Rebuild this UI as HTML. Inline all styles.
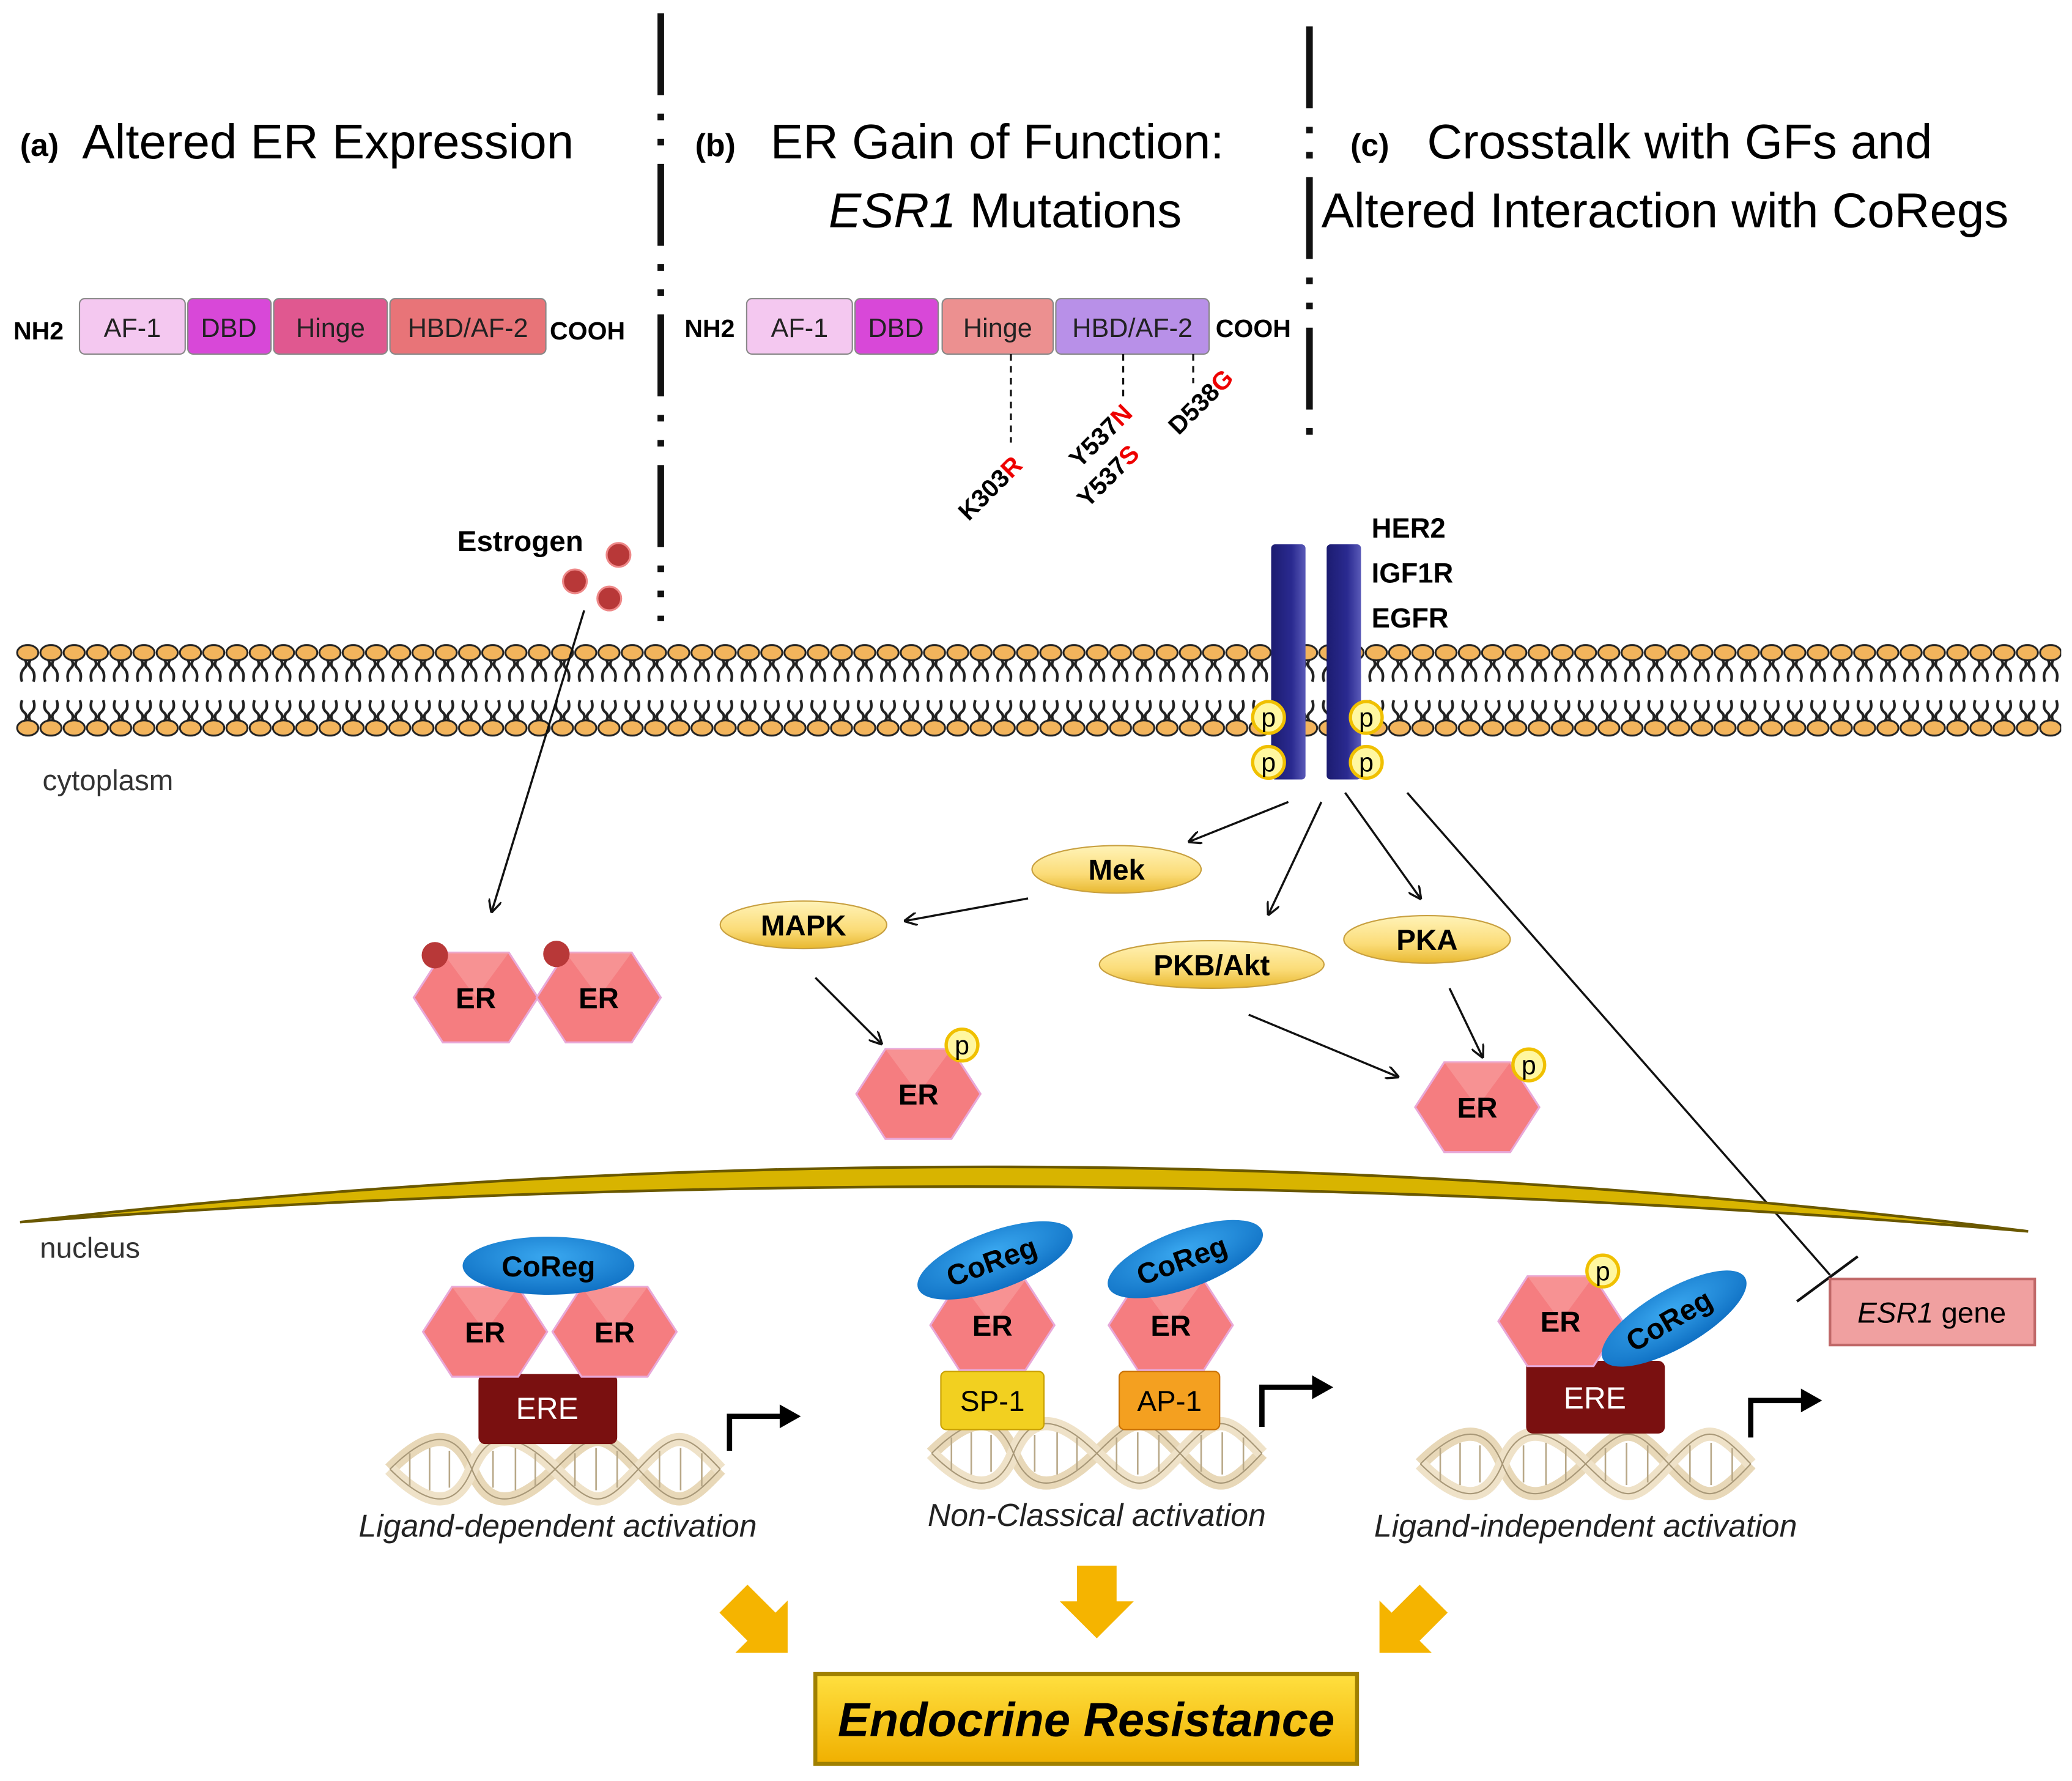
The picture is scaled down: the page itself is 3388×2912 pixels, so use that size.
<!DOCTYPE html>
<html><head><meta charset="utf-8"><style>
html,body{margin:0;padding:0;background:#fff;}
svg{display:block;}
text{font-family:"Liberation Sans","DejaVu Sans",sans-serif;}
</style></head><body>
<svg width="3388" height="2912" viewBox="0 0 1568 1348" xmlns="http://www.w3.org/2000/svg">
<defs>
<pattern id="lip" x="12" y="485" width="17.6" height="82" patternUnits="userSpaceOnUse">
 <path d="M6.3 14 Q9.5 18 6 21 Q2.5 25 4.5 31 M11.3 14 Q8.1 18 11.6 21 Q15.1 25 13.1 31" fill="none" stroke="#222" stroke-width="2"/>
 <path d="M4.5 45 Q2.5 51 6 54 Q9.5 57 6.3 61 M13.1 45 Q15.1 51 11.6 54 Q8.1 57 11.3 61" fill="none" stroke="#222" stroke-width="2"/>
 <ellipse cx="8.8" cy="9" rx="8" ry="5.8" fill="#f2b45c" stroke="#222" stroke-width="1.4"/>
 <ellipse cx="8.8" cy="66" rx="8" ry="5.8" fill="#f2b45c" stroke="#222" stroke-width="1.4"/>
</pattern>
<linearGradient id="rec" x1="0" x2="1"><stop offset="0" stop-color="#1c1c70"/><stop offset=".6" stop-color="#2a2a90"/><stop offset="1" stop-color="#5a5ab8"/></linearGradient>
<linearGradient id="yel" x1="0" y1="0" x2="0" y2="1"><stop offset="0" stop-color="#fff3b8"/><stop offset=".6" stop-color="#fbdc78"/><stop offset="1" stop-color="#e8b830"/></linearGradient>
<linearGradient id="gold" x1="0" y1="0" x2="0" y2="1"><stop offset="0" stop-color="#ffe040"/><stop offset="1" stop-color="#f0b000"/></linearGradient>
<radialGradient id="blue" cx=".5" cy=".35" r=".7"><stop offset="0" stop-color="#3aa8f0"/><stop offset="1" stop-color="#0c6cc0"/></radialGradient>
<marker id="ar" markerWidth="10" markerHeight="10" refX="9" refY="5" orient="auto" markerUnits="userSpaceOnUse"><path d="M0 0 L10 5 L0 10" fill="none" stroke="#111" stroke-width="1.6"/></marker>
<g id="hex"><path d="M-47 0 L-25 -34 L25 -34 L47 0 L25 34 L-25 34 Z" fill="#f57d80" stroke="#e8a8d8" stroke-width="1.5"/><path d="M-25 -34 L25 -34 L0 0 Z" fill="#f9a0a0" opacity=".6"/></g>
<g id="dna" fill="none">
 <path d="M0 22 C30 -8 50 -8 62 22 S95 52 125 22 S160 -8 188 22 S222 52 250 22" stroke="#e8d8b8" stroke-width="10"/>
 <path d="M0 22 C30 52 50 52 62 22 S95 -8 125 22 S160 52 188 22 S222 -8 250 22" stroke="#efe2c8" stroke-width="10"/>
 <path d="M0 22 C30 -8 50 -8 62 22 S95 52 125 22 S160 -8 188 22 S222 52 250 22 M0 22 C30 52 50 52 62 22 S95 -8 125 22 S160 52 188 22 S222 -8 250 22" stroke="#a89878" stroke-width="1"/>
 <g stroke="#b8a888" stroke-width="1.2"><path d="M15 10v25M30 6v32M45 8v28M78 8v28M95 6v32M110 10v25M140 10v25M156 6v32M172 8v28M204 8v28M220 6v32M236 10v25"/></g>
</g>
<g id="pp"><circle r="12" fill="#fff7a0" stroke="#f0c000" stroke-width="2.5"/><text y="7" text-anchor="middle" font-size="20">p</text></g>
</defs>

<!-- dividers -->
<g stroke="#111" stroke-width="5">
<path d="M500 10V470" stroke-dasharray="62 14 5 14 5 14"/>
<path d="M991 20V335" stroke-dasharray="62 14 5 14 5 14"/>
</g>

<!-- titles -->
<text x="15" y="118" font-size="24" font-weight="bold">(a)</text>
<text x="62" y="120" font-size="37">Altered ER Expression</text>
<text x="526" y="118" font-size="24" font-weight="bold">(b)</text>
<text x="583" y="120" font-size="37">ER Gain of Function:</text>
<text x="627" y="172" font-size="37"><tspan font-style="italic">ESR1</tspan> Mutations</text>
<text x="1022" y="118" font-size="24" font-weight="bold">(c)</text>
<text x="1080" y="120" font-size="37">Crosstalk with GFs and</text>
<text x="1000" y="172" font-size="37">Altered Interaction with CoRegs</text>

<!-- domain bars -->
<g font-size="20" text-anchor="middle" stroke="#888" stroke-width="1">
<rect x="60" y="226" width="80" height="42" rx="4" fill="#f4c8f0"/>
<rect x="142" y="226" width="63" height="42" rx="4" fill="#d848d8"/>
<rect x="207" y="226" width="86" height="42" rx="4" fill="#e05890"/>
<rect x="295" y="226" width="118" height="42" rx="4" fill="#e87478"/>
<rect x="565" y="226" width="80" height="42" rx="4" fill="#f4c8f0"/>
<rect x="647" y="226" width="63" height="42" rx="4" fill="#d848d8"/>
<rect x="713" y="226" width="84" height="42" rx="4" fill="#ec9090"/>
<rect x="799" y="226" width="116" height="42" rx="4" fill="#b890e8"/>
</g>
<g font-size="20" text-anchor="middle" fill="#222">
<text x="100" y="255">AF-1</text><text x="173" y="255">DBD</text><text x="250" y="255">Hinge</text><text x="354" y="255">HBD/AF-2</text>
<text x="605" y="255">AF-1</text><text x="678" y="255">DBD</text><text x="755" y="255">Hinge</text><text x="857" y="255">HBD/AF-2</text>
</g>
<g font-size="19" font-weight="bold">
<text x="10" y="257">NH2</text><text x="416" y="257">COOH</text>
<text x="518" y="255">NH2</text><text x="920" y="255">COOH</text>
</g>
<g stroke="#111" stroke-width="1.5" stroke-dasharray="5 4"><path d="M765 268V335M850 268V300M903 268V290"/></g>
<g font-size="19" font-weight="bold">
<text transform="translate(733,395) rotate(-45)">K303<tspan fill="#e00">R</tspan></text>
<text transform="translate(817,355) rotate(-45)">Y537<tspan fill="#e00">N</tspan></text>
<text transform="translate(823,385) rotate(-45)">Y537<tspan fill="#e00">S</tspan></text>
<text transform="translate(892,330) rotate(-45)">D538<tspan fill="#e00">G</tspan></text>
</g>

<!-- membrane -->
<rect x="12" y="485" width="1548" height="82" fill="url(#lip)"/>
<text x="32" y="598" font-size="22" fill="#333">cytoplasm</text>

<!-- receptors -->
<rect x="962" y="412" width="26" height="178" rx="3" fill="url(#rec)"/>
<rect x="1004" y="412" width="26" height="178" rx="3" fill="url(#rec)"/>
<use href="#pp" x="960" y="543"/><use href="#pp" x="960" y="577"/>
<use href="#pp" x="1034" y="543"/><use href="#pp" x="1034" y="577"/>
<g font-size="21" font-weight="bold"><text x="1038" y="407">HER2</text><text x="1038" y="441">IGF1R</text><text x="1038" y="475">EGFR</text></g>

<!-- estrogen -->
<text x="346" y="417" font-size="22" font-weight="bold">Estrogen</text>
<g fill="#b83838" stroke="#e88" stroke-width="1.5"><circle cx="468" cy="420" r="9"/><circle cx="435" cy="440" r="9"/><circle cx="461" cy="453" r="9"/></g>

<!-- arrows -->
<g stroke="#111" stroke-width="1.6" fill="none" marker-end="url(#ar)">
<path d="M442 462L372 690"/>
<path d="M975 607L900 637"/><path d="M1000 607L960 692"/><path d="M1018 600L1075 680"/>
<path d="M778 680L685 697"/><path d="M617 740L667 790"/><path d="M945 768L1058 815"/><path d="M1097 748L1122 800"/>
</g>
<path d="M1065 600L1385 965" stroke="#111" stroke-width="1.6"/>
<path d="M1360 985L1406 951" stroke="#111" stroke-width="2"/>

<!-- kinases -->
<g stroke="#c8a040" stroke-width="1"><ellipse cx="845" cy="658" rx="64" ry="18" fill="url(#yel)"/><ellipse cx="608" cy="700" rx="63" ry="18" fill="url(#yel)"/><ellipse cx="917" cy="730" rx="85" ry="18" fill="url(#yel)"/><ellipse cx="1080" cy="711" rx="63" ry="18" fill="url(#yel)"/></g>
<g font-size="22" font-weight="bold" text-anchor="middle"><text x="845" y="666">Mek</text><text x="608" y="708">MAPK</text><text x="917" y="738">PKB/Akt</text><text x="1080" y="719">PKA</text></g>

<!-- cytoplasm ERs -->
<use href="#hex" x="360" y="755"/><use href="#hex" x="453" y="755"/>
<circle cx="329" cy="723" r="10" fill="#b83838"/><circle cx="421" cy="722" r="10" fill="#b83838"/>
<use href="#hex" x="695" y="828"/><use href="#pp" x="728" y="791"/>
<use href="#hex" x="1118" y="838"/><use href="#pp" x="1157" y="806"/>
<g font-size="22" font-weight="bold" text-anchor="middle"><text x="360" y="763">ER</text><text x="453" y="763">ER</text><text x="695" y="836">ER</text><text x="1118" y="846">ER</text></g>

<!-- nucleus -->
<path d="M15 925 Q780 838 1535 932 Q780 868 15 925Z" fill="#d8b400" stroke="#6a5800" stroke-width="2"/>
<text x="30" y="952" font-size="22" fill="#333">nucleus</text>

<!-- DNA -->
<use href="#dna" x="295" y="1090"/><use href="#dna" x="705" y="1078"/><use href="#dna" x="1075" y="1086"/>

<!-- left complex -->
<rect x="362" y="1040" width="105" height="53" rx="5" fill="#7a1010"/>
<text x="414" y="1074" font-size="23" fill="#fff" text-anchor="middle">ERE</text>
<use href="#hex" x="367" y="1008"/><use href="#hex" x="465" y="1008"/>
<ellipse cx="415" cy="958" rx="65" ry="22" fill="url(#blue)"/>
<g font-size="22" font-weight="bold" text-anchor="middle"><text x="367" y="1016">ER</text><text x="465" y="1016">ER</text><text x="415" y="966">CoReg</text></g>

<!-- middle complex -->
<rect x="712" y="1038" width="78" height="44" rx="4" fill="#f2d020" stroke="#c8a000"/>
<rect x="847" y="1038" width="76" height="44" rx="4" fill="#f4a020" stroke="#c87000"/>
<g font-size="22" text-anchor="middle"><text x="751" y="1068">SP-1</text><text x="885" y="1068">AP-1</text></g>
<use href="#hex" x="751" y="1003"/><use href="#hex" x="886" y="1003"/>
<ellipse cx="0" cy="0" rx="62" ry="22" fill="url(#blue)" transform="translate(753,954) rotate(-20)"/>
<ellipse cx="0" cy="0" rx="62" ry="22" fill="url(#blue)" transform="translate(897,953) rotate(-20)"/>
<g font-size="22" font-weight="bold" text-anchor="middle"><text x="751" y="1011">ER</text><text x="886" y="1011">ER</text>
<text transform="translate(753,962) rotate(-20)">CoReg</text><text transform="translate(897,961) rotate(-20)">CoReg</text></g>

<!-- right complex -->
<rect x="1155" y="1030" width="105" height="55" rx="5" fill="#7a1010"/>
<text x="1207" y="1066" font-size="23" fill="#fff" text-anchor="middle">ERE</text>
<use href="#hex" x="1181" y="1000"/><use href="#pp" x="1213" y="962"/>
<ellipse cx="0" cy="0" rx="62" ry="22" fill="url(#blue)" transform="translate(1267,998) rotate(-30)"/>
<g font-size="22" font-weight="bold" text-anchor="middle"><text x="1181" y="1008">ER</text><text transform="translate(1267,1006) rotate(-30)">CoReg</text></g>

<!-- bent arrows -->
<g stroke="#000" stroke-width="4" fill="none"><path d="M552 1098V1072H592"/><path d="M955 1080V1050H995"/><path d="M1325 1088V1060H1365"/></g>
<g fill="#000"><path d="M590 1063L606 1072L590 1081Z"/><path d="M993 1041L1009 1050L993 1059Z"/><path d="M1363 1051L1379 1060L1363 1069Z"/></g>

<!-- ESR1 gene -->
<rect x="1385" y="968" width="155" height="50" fill="#f0a0a0" stroke="#c06868" stroke-width="2"/>
<text x="1462" y="1001" font-size="22" text-anchor="middle"><tspan font-style="italic">ESR1</tspan> gene</text>

<!-- captions -->
<g font-size="24" font-style="italic" text-anchor="middle" fill="#222">
<text x="422" y="1163">Ligand-dependent activation</text>
<text x="830" y="1155">Non-Classical activation</text>
<text x="1200" y="1163">Ligand-independent activation</text>
</g>

<!-- orange arrows -->
<g fill="#f5b400">
<path d="M815 1185H845V1212H858L830 1240L802 1212H815Z"/>
<path d="M0 -15H30V-28L58 0L30 28V15H0Z" transform="translate(555,1210) rotate(45)"/>
<path d="M0 -15H30V-28L58 0L30 28V15H0Z" transform="translate(1085,1210) rotate(135)"/>
</g>

<!-- endocrine resistance -->
<rect x="617" y="1267" width="410" height="68" fill="url(#gold)" stroke="#a08000" stroke-width="3"/>
<text x="822" y="1314" font-size="36" font-weight="bold" font-style="italic" text-anchor="middle">Endocrine Resistance</text>
</svg>
</body></html>
